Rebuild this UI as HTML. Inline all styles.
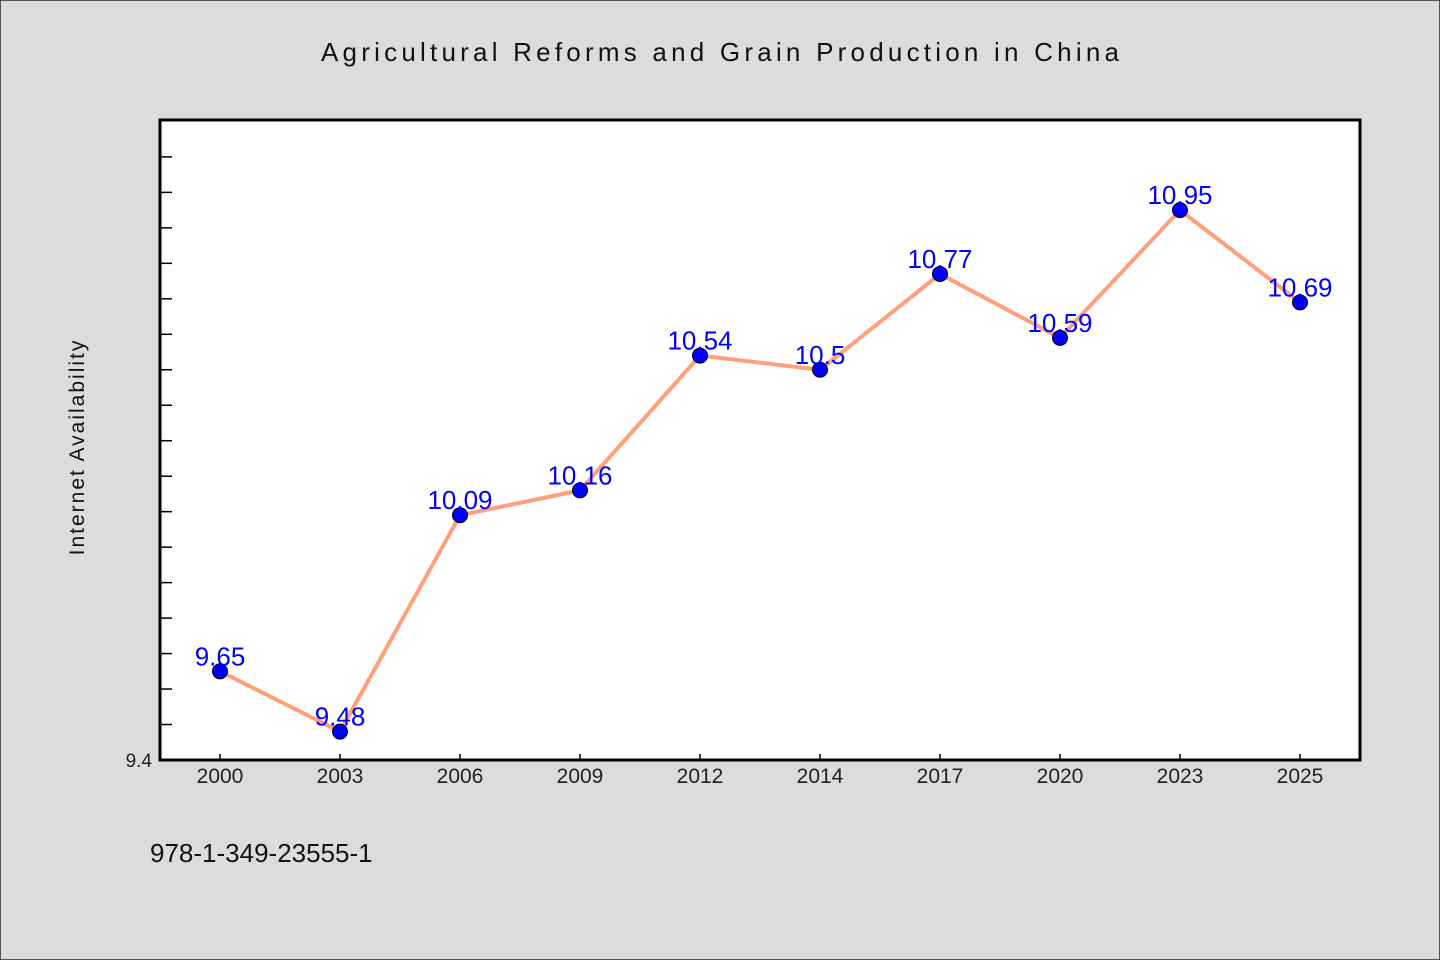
<!DOCTYPE html>
<html><head><meta charset="utf-8"><style>body{margin:0;background:#dcdcdc}svg{display:block}text{font-family:"WenQuanYi Zen Hei","Liberation Sans",sans-serif}</style></head>
<body>
<svg id="c" width="1440" height="960" xmlns="http://www.w3.org/2000/svg">
<rect x="0.5" y="0.5" width="1439" height="959" fill="#dcdcdc" stroke="#555"/>
<text x="720" y="61" text-anchor="middle" font-size="26" fill="#111" textLength="798">Agricultural Reforms and Grain Production in China</text>
<rect x="160" y="120" width="1200" height="640" fill="#fff" stroke="#000" stroke-width="3"/>
<text transform="translate(84,447) rotate(-90)" text-anchor="middle" font-size="21" fill="#111" letter-spacing="2">Internet Availability</text>
<text x="150" y="862" font-size="26" fill="#111">978-1-349-23555-1</text>
<g id="g"></g>
</svg>
<script>
const categories=["2000","2003","2006","2009","2012","2014","2017","2020","2023","2025"];
const values=[9.65,9.48,10.09,10.16,10.54,10.5,10.77,10.59,10.95,10.69];
const yMin=9.4,yMax=11.204;
const L=160,R=1360,T=120,B=760;
const band=(R-L)/categories.length;
const xS=i=>L+band*(i+0.5);
const yS=v=>B-(v-yMin)/(yMax-yMin)*(B-T);
const g=document.getElementById('g');
const NS='http://www.w3.org/2000/svg';
function mk(t,a){const e=document.createElementNS(NS,t);for(const k in a)e.setAttribute(k,a[k]);g.appendChild(e);return e;}
for(let k=0;k<=17;k++){const v=yMin+k*0.1;const y=yS(v);
const t=mk('line',{x1:L,x2:L+12,y1:y,y2:y,stroke:'#000','stroke-width':1.5});

}
const yl=mk('text',{x:152,y:yS(yMin)+7,'text-anchor':'end','font-size':19,fill:'#222'});yl.textContent='9.4';


categories.forEach((c,i)=>{const x=xS(i);
const t=mk('line',{x1:x,x2:x,y1:B-6,y2:B,stroke:'#000','stroke-width':1.5});


const l=mk('text',{x:x,y:B+23,'text-anchor':'middle','font-size':21,fill:'#222'});l.textContent=c;

});
const p=mk('polyline',{points:values.map((v,i)=>xS(i)+','+yS(v)).join(' '),fill:'none',stroke:'#ffa07a','stroke-width':4});


values.forEach((v,i)=>{
const c=mk('circle',{cx:xS(i),cy:yS(v),r:7.5,fill:'#0000ff',stroke:'#000','stroke-width':1});


const t=mk('text',{x:xS(i),y:yS(v)-6,'text-anchor':'middle','font-size':26,fill:'#0000ff'});t.textContent=String(v);

});
</script>
</body></html>
